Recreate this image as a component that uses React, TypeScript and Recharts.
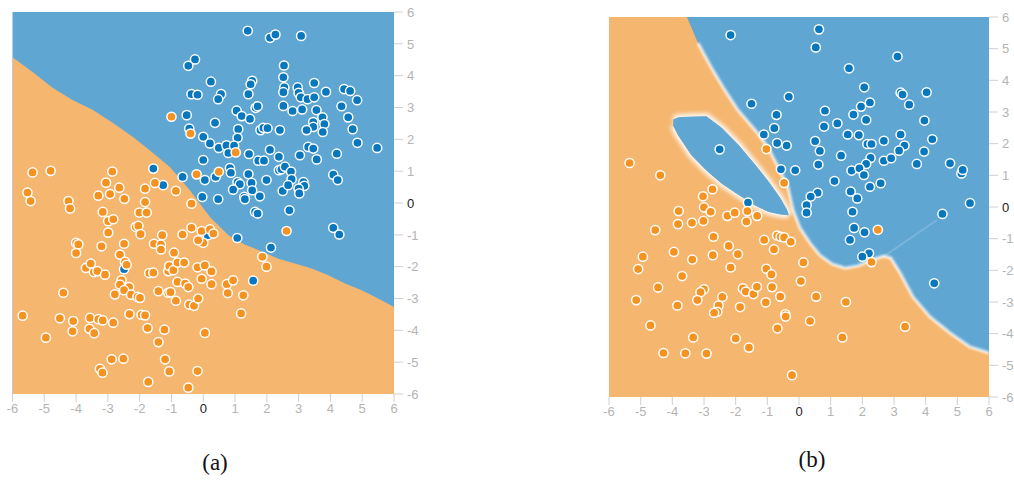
import React from "react";
import {
  ComposedChart,
  Area,
  Line,
  Scatter,
  XAxis,
  YAxis,
  CartesianGrid,
  ReferenceLine,
} from "recharts";

const ticks = [-6, -5, -4, -3, -2, -1, 0, 1, 2, 3, 4, 5, 6];

const BLUE_BG = "#60a6d3";
const ORANGE_BG = "#f5b66f";
const BLUE_PT = "#0877bd";
const ORANGE_PT = "#f59322";

// (a) decision boundary, left to right; blue above, orange below
const boundaryA: [number, number][] = [
  [-6, 4.58], [-5.36, 4.11], [-4.73, 3.61], [-4.1, 3.23], [-3.47, 2.92],
  [-2.84, 2.51], [-2.21, 2.07], [-1.58, 1.57], [-1.05, 1.13], [-0.42, 0.4],
  [0.21, -0.44], [0.79, -1.01], [1.3, -1.3], [1.84, -1.52], [2.36, -1.75],
  [2.88, -1.9], [3.41, -2.06], [3.93, -2.27], [4.46, -2.53], [4.98, -2.74],
  [5.5, -3.0], [6, -3.27],
];

const blueA: [number, number][] = [
  [-0.26, 4.51], [-0.47, 4.31], [-0.37, 3.42], [-0.52, 2.76], [-0.44, 2.34],
  [-0.65, 0.82], [-1.57, 1.08], [-1.26, 0.56],
  [1.4, 5.41], [2.1, 5.19], [2.27, 5.29], [3.08, 5.25], [2.54, 4.32],
  [0.24, 3.81], [1.54, 3.84], [1.49, 3.73], [2.52, 3.95], [3.49, 3.77],
  [2.55, 3.63], [2.52, 3.48], [2.97, 3.63], [3.0, 3.46], [3.07, 3.32],
  [3.28, 3.26], [3.49, 3.32], [3.86, 3.49], [4.43, 3.58], [4.62, 3.52],
  [4.84, 3.23], [1.42, 3.42], [-0.18, 3.4], [0.56, 3.42], [0.47, 3.26],
  [1.65, 2.99], [1.71, 3.04], [2.52, 3.05], [2.81, 2.89], [3.11, 2.94],
  [3.56, 2.92], [4.35, 3.04], [1.05, 2.9], [1.21, 2.73], [1.47, 2.64],
  [0.37, 2.52], [3.75, 2.69], [3.46, 2.54], [3.46, 2.39], [3.81, 2.48],
  [4.56, 2.69], [3.25, 2.29], [3.76, 2.23], [4.7, 2.32], [1.1, 2.32],
  [1.8, 2.29], [1.89, 2.36], [2.02, 2.35], [2.41, 2.29], [0.0, 2.08],
  [1.08, 2.05], [0.21, 1.87], [0.49, 1.73], [0.73, 1.81], [0.97, 1.8],
  [4.85, 1.89], [5.47, 1.73], [3.3, 1.76], [3.46, 1.71], [2.1, 1.67],
  [0.79, 1.57], [1.44, 1.54], [2.38, 1.45], [1.73, 1.33], [1.91, 1.33],
  [3.04, 1.5], [3.57, 1.37], [4.2, 1.55], [0.0, 1.35], [0.84, 1.1],
  [0.87, 0.95], [0.39, 0.82], [0.05, 0.72], [1.42, 0.91], [1.08, 0.66],
  [1.99, 0.72], [1.52, 0.63], [1.15, 0.59], [2.38, 1.03], [2.46, 1.06],
  [2.57, 1.14], [2.76, 0.99], [2.78, 0.75], [3.15, 0.66], [3.18, 0.54],
  [4.09, 0.89], [4.23, 0.72], [0.94, 0.42], [1.54, 0.4], [2.5, 0.38],
  [2.67, 0.56], [3.0, 0.45], [3.02, 0.3],
  [-2.49, -2.08],
  [-0.03, 0.19], [0.47, 0.12], [1.29, 0.19], [1.31, 0.12], [1.78, 0.21],
  [1.63, -0.28], [1.71, -0.33], [2.71, -0.23], [4.09, -0.78], [4.28, -0.99],
  [1.07, -1.1], [2.13, -1.4], [1.57, -2.44], [0.14, -1.01],
];

const orangeA: [number, number][] = [
  [-1.0, 2.71], [-0.4, 2.18], [-5.37, 0.96], [-4.8, 1.01], [-2.86, 0.99],
  [-3.06, 0.64], [-1.52, 0.63], [-0.86, 0.38], [-1.83, 0.45], [-2.64, 0.48],
  [-2.93, 0.28], [-3.3, 0.23], [-5.53, 0.33],
  [1.02, 1.59], [-0.21, 0.9], [0.49, 0.98],
  [-5.43, 0.06], [-4.24, 0.06], [-4.19, -0.17], [-2.48, 0.13], [-1.83, 0.03],
  [-0.37, -0.02], [-3.16, -0.28], [-2.99, -0.57], [-2.83, -0.51], [-2.01, -0.3],
  [-1.78, -0.3], [-2.99, -0.93], [-2.12, -0.75], [-2.04, -0.72], [-1.97, -0.98],
  [-0.37, -0.78], [-0.65, -0.99], [-4.0, -1.25], [-3.93, -1.3], [-4.0, -1.57],
  [-3.2, -1.36], [-2.49, -1.28], [-1.55, -1.28], [-1.29, -1.01], [-1.33, -1.31],
  [-1.33, -1.46], [-2.62, -1.62], [-2.46, -1.85], [-2.41, -1.94], [-3.69, -2.04],
  [-3.54, -1.9], [-3.44, -2.17], [-3.33, -2.14], [-3.09, -2.25], [-1.7, -2.2],
  [-1.57, -2.19], [-1.1, -2.14], [-1.07, -1.98], [-0.94, -2.11], [-0.81, -1.87],
  [-0.6, -1.87], [-0.92, -1.56], [-2.57, -2.43], [-2.62, -2.56], [-2.33, -2.64],
  [-2.49, -2.74], [-2.78, -2.87], [-2.27, -2.88], [-2.07, -2.95], [-1.99, -2.98],
  [-1.41, -2.77], [-1.1, -2.82], [-1.03, -2.8], [-0.86, -3.07], [-0.81, -2.48],
  [-0.57, -2.53], [-0.47, -2.64], [-0.44, -3.19], [-0.29, -3.23], [-4.4, -2.82],
  [-5.68, -3.54], [-4.51, -3.62], [-4.09, -3.71], [-4.11, -4.03], [-3.56, -3.61],
  [-3.58, -3.95], [-3.43, -4.09], [-3.3, -3.65], [-3.16, -3.69], [-2.83, -3.76],
  [-2.32, -3.49], [-1.94, -3.51], [-1.83, -3.53], [-1.75, -3.93], [-1.22, -3.98],
  [-1.41, -4.37], [-4.95, -4.23], [-3.25, -5.21], [-3.17, -5.33], [-2.88, -4.91],
  [-2.51, -4.89], [-1.73, -5.62], [-1.2, -4.91], [-1.07, -5.29], [-0.47, -5.8],
  [-0.05, -0.88], [0.21, -0.83], [0.32, -0.96], [0.0, -1.25], [-0.16, -1.17],
  [1.86, -1.69], [1.99, -2.0], [-0.18, -2.02], [0.05, -1.96], [-0.05, -2.38],
  [0.26, -2.15], [0.26, -2.55], [0.74, -2.55], [0.94, -2.43], [0.77, -2.83],
  [1.26, -2.9], [-0.16, -3.0], [1.19, -3.47], [2.62, -0.88], [0.05, -4.08],
  [-0.18, -5.28],
];

// (b) outer boundary of the orange region, left to right
const boundaryB: [number, number][] = [
  [-6, 6], [-3.54, 6], [-3.19, 5.18], [-2.78, 4.42], [-2.34, 3.69],
  [-1.93, 3.06], [-1.39, 2.43], [-0.98, 1.89], [-0.66, 1.26], [-0.35, 0.63],
  [-0.19, -0.09], [0.03, -0.66], [0.35, -1.14], [0.66, -1.52], [1.04, -1.8],
  [1.45, -1.93], [1.86, -1.86], [2.3, -1.67], [2.68, -1.55], [2.9, -1.61],
  [3.19, -2.08], [3.6, -2.84], [4.14, -3.47], [4.77, -3.98], [5.4, -4.42],
  [6, -4.61],
];

// (b) blue pocket inside the orange region: x, lower edge, upper edge
const islandB: [number, number, number][] = [
  [-3.97, 2.59, 2.75], [-3.81, 2.27, 2.82], [-3.39, 1.64, 2.84],
  [-2.92, 1.16, 2.85], [-2.44, 0.75, 2.49], [-1.92, 0.4, 1.96],
  [-1.39, 0.06, 1.33], [-0.97, -0.14, 0.8], [-0.6, -0.22, 0.28],
  [-0.39, -0.24, -0.09], [-0.34, -0.25, -0.25],
];

const streakB: [number, number][] = [[2.65, -1.58], [4.36, -0.41]];

const blueB: [number, number][] = [
  [-2.16, 5.43], [-1.5, 3.26], [-0.32, 3.48], [-0.71, 2.91], [-0.78, 2.49],
  [-1.11, 2.29], [-0.69, 2.02], [-0.39, 1.94], [-2.505, 1.82], [-0.57, 1.19],
  [-1.61, 0.14],
  [0.63, 5.61], [0.53, 5.04], [3.11, 4.75], [1.58, 4.38], [2.06, 3.78],
  [3.21, 3.61], [3.27, 3.55], [4.03, 3.62], [2.24, 3.3], [1.96, 3.17],
  [0.82, 3.04], [1.72, 2.92], [3.48, 3.23], [1.21, 2.64], [2.12, 2.75],
  [3.96, 2.73], [0.79, 2.54], [0.51, 2.08], [1.54, 2.29], [1.89, 2.27],
  [2.16, 1.99], [2.29, 1.99], [2.68, 2.09], [3.21, 2.29], [3.33, 1.94],
  [4.21, 2.14], [0.66, 1.77], [1.33, 1.62], [3.16, 1.78], [3.95, 1.75],
  [2.26, 1.55], [2.12, 1.36], [2.68, 1.46], [2.91, 1.54], [3.72, 1.36],
  [4.77, 1.38], [5.13, 1.06], [5.17, 1.17], [0.61, 1.34], [-0.12, 1.16],
  [1.66, 1.15], [1.91, 1.22], [2.05, 1.01], [1.12, 0.82], [2.24, 0.64],
  [2.58, 0.75], [1.63, 0.49], [1.84, 0.27], [0.59, 0.45], [0.37, 0.33],
  [5.4, 0.12],
  [0.24, 0.06], [0.24, -0.18], [1.69, -0.15], [1.74, -0.66], [2.07, -0.8],
  [1.61, -1.04], [2.21, -1.46], [2.0, -1.57], [4.53, -0.22], [4.27, -2.41],
];

const orangeB: [number, number][] = [
  [-1.03, 1.83], [-0.47, 0.76], [-5.35, 1.39], [-4.38, 1.0], [-2.73, 0.56],
  [-3.03, 0.34],
  [-3.8, -0.13], [-3.0, -0.01], [-2.79, -0.15], [-3.82, -0.54], [-3.38, -0.5],
  [-3.02, -0.44], [-2.26, -0.28], [-2.03, -0.18], [-1.63, -0.13], [-1.66, -0.46],
  [-1.32, -0.28], [-4.54, -0.73], [-2.7, -0.94], [-1.1, -1.04], [-0.69, -0.9],
  [-0.58, -0.94], [-0.47, -0.96], [-0.26, -1.1], [-0.79, -1.34], [-4.93, -1.57],
  [-5.08, -1.96], [-3.95, -1.42], [-3.37, -1.66], [-2.72, -1.52], [-2.22, -1.23],
  [-1.93, -1.49], [-2.16, -1.91], [-1.03, -1.95], [-0.87, -2.13], [-4.45, -2.54],
  [-3.69, -2.18], [-3.0, -2.6], [-3.11, -2.69], [-3.21, -2.94], [-2.42, -2.84],
  [-2.54, -3.11], [-2.58, -3.31], [-2.68, -3.34], [-1.86, -3.16], [-1.77, -2.57],
  [-1.68, -2.67], [-1.44, -2.75], [-1.33, -2.52], [-0.85, -2.53], [-1.05, -3.01],
  [-0.59, -2.83], [-5.14, -2.94], [-3.84, -3.11], [-4.69, -3.74], [-3.34, -4.12],
  [-4.28, -4.61], [-3.59, -4.62], [-2.92, -4.63], [-2.0, -4.15], [-1.58, -4.44],
  [-0.68, -3.83], [-0.43, -3.39], [-0.42, -3.46], [-0.22, -5.31],
  [2.49, -0.72], [2.29, -1.74], [0.14, -1.75], [0.06, -2.34], [0.54, -2.83],
  [1.48, -3.0], [0.35, -3.6], [1.37, -4.12], [3.35, -3.78],
];

const toPts = (arr: [number, number][]) => arr.map(([x, y]) => ({ x, y }));

const tickFont = "'Liberation Sans', Arial, sans-serif";

function XTick(props: any) {
  const { x, y, payload } = props;
  const zero = payload.value === 0;
  return (
    <text x={x} y={y} dy="0.71em" textAnchor="middle" fontSize={13}
      fontFamily={tickFont} fill={zero ? "#222" : "#b4b4b4"}>
      {payload.value}
    </text>
  );
}

function YTick(props: any) {
  const { x, y, payload } = props;
  const zero = payload.value === 0;
  return (
    <text x={x} y={y} dy="0.36em" textAnchor="start" fontSize={13}
      fontFamily={tickFont} fill={zero ? "#222" : "#b4b4b4"}>
      {payload.value}
    </text>
  );
}

const dot = (color: string) => (p: any) => (
  <circle cx={p.cx} cy={p.cy} r={4.6} fill={color} stroke="#fff" strokeWidth={1.5} />
);

type PanelProps = {
  width: number;
  height: number;
  margin: { top: number; right: number; bottom: number; left: number };
  yWidth: number;
  boundary: [number, number][];
  blue: [number, number][];
  orange: [number, number][];
  soft?: boolean;
  island?: [number, number, number][];
  streak?: [number, number][];
};

function Panel(p: PanelProps) {
  const orangeBand = p.boundary.map(([x, y]) => ({ x, band: [-6, y] }));
  const edge = p.boundary.filter(([, y]) => y < 6).map(([x, y]) => ({ x, y }));
  const island = (p.island || []).map(([x, lo, hi]) => ({ x, band: [lo, hi] }));
  return (
    <ComposedChart width={p.width} height={p.height} margin={p.margin}>
      <CartesianGrid fill={BLUE_BG} stroke="none" horizontal={false} vertical={false} />
      <XAxis type="number" dataKey="x" domain={[-6, 6]} ticks={ticks} allowDataOverflow
        axisLine={false} tickSize={8} tickLine={{ stroke: "#d0d0d0" }} tick={<XTick />}
        height={30} interval={0} />
      <YAxis type="number" orientation="right" domain={[-6, 6]} ticks={ticks} allowDataOverflow
        axisLine={false} tickSize={9} tickMargin={4} tickLine={{ stroke: "#d0d0d0" }}
        tick={<YTick />} width={p.yWidth} interval={0} />
      <Area data={orangeBand} dataKey="band" type="linear" fill={ORANGE_BG} fillOpacity={1}
        stroke="none" isAnimationActive={false} />
      {p.soft && (
        <Line data={edge} dataKey="y" type="linear" stroke="#ffffff" strokeOpacity={0.8}
          strokeWidth={3} dot={false} className="halo" isAnimationActive={false} />
      )}
      {p.island && (
        <Area data={island} dataKey="band" type="linear" fill="none"
          stroke="#ffffff" strokeOpacity={0.9} strokeWidth={7} className="pocket"
          isAnimationActive={false} />
      )}
      {p.island && (
        <Area data={island} dataKey="band" type="linear" fill={BLUE_BG} fillOpacity={1}
          stroke={BLUE_BG} strokeWidth={1} isAnimationActive={false} />
      )}
      {p.streak && (
        <ReferenceLine
          segment={p.streak.map(([x, y]) => ({ x, y }))}
          stroke="#ffffff" strokeOpacity={0.16} strokeWidth={2}
        />
      )}
      <Scatter data={toPts(p.blue)} dataKey="y" shape={dot(BLUE_PT)} isAnimationActive={false} />
      <Scatter data={toPts(p.orange)} dataKey="y" shape={dot(ORANGE_PT)} isAnimationActive={false} />
    </ComposedChart>
  );
}

const captionStyle: React.CSSProperties = {
  position: "absolute",
  fontFamily: "'Liberation Serif', 'DejaVu Serif', serif",
  fontSize: 23,
  color: "#111",
  width: 60,
  textAlign: "center",
};

export default function App() {
  return (
    <div style={{ position: "absolute", left: 0, top: 0, width: 1014, height: 483,
      background: "#fff", overflow: "hidden" }}>
      <style>{`
        .halo .recharts-line-curve { filter: url(#soft-edge); }
        .pocket .recharts-area-curve { filter: url(#soft-pocket); }
      `}</style>
      <svg width={0} height={0} style={{ position: "absolute" }}>
        <defs>
          <filter id="soft-edge" x="-10%" y="-10%" width="120%" height="120%">
            <feGaussianBlur stdDeviation={1} />
          </filter>
          <filter id="soft-pocket" x="-10%" y="-10%" width="120%" height="120%">
            <feGaussianBlur stdDeviation={2} />
          </filter>
        </defs>
      </svg>
      <div style={{ position: "absolute", left: 0, top: 0 }}>
        <Panel width={440} height={430}
          margin={{ top: 12, left: 12.5, right: 6, bottom: 6 }} yWidth={40}
          boundary={boundaryA} blue={blueA} orange={orangeA} />
      </div>
      <div style={{ position: "absolute", left: 600, top: 0 }}>
        <Panel width={414} height={430}
          margin={{ top: 17, left: 9, right: 0, bottom: 3 }} yWidth={25}
          boundary={boundaryB} blue={blueB} orange={orangeB} soft
          island={islandB} streak={streakB} />
      </div>
      <div style={{ ...captionStyle, left: 185, top: 450 }}>(a)</div>
      <div style={{ ...captionStyle, left: 782, top: 447 }}>(b)</div>
    </div>
  );
}
